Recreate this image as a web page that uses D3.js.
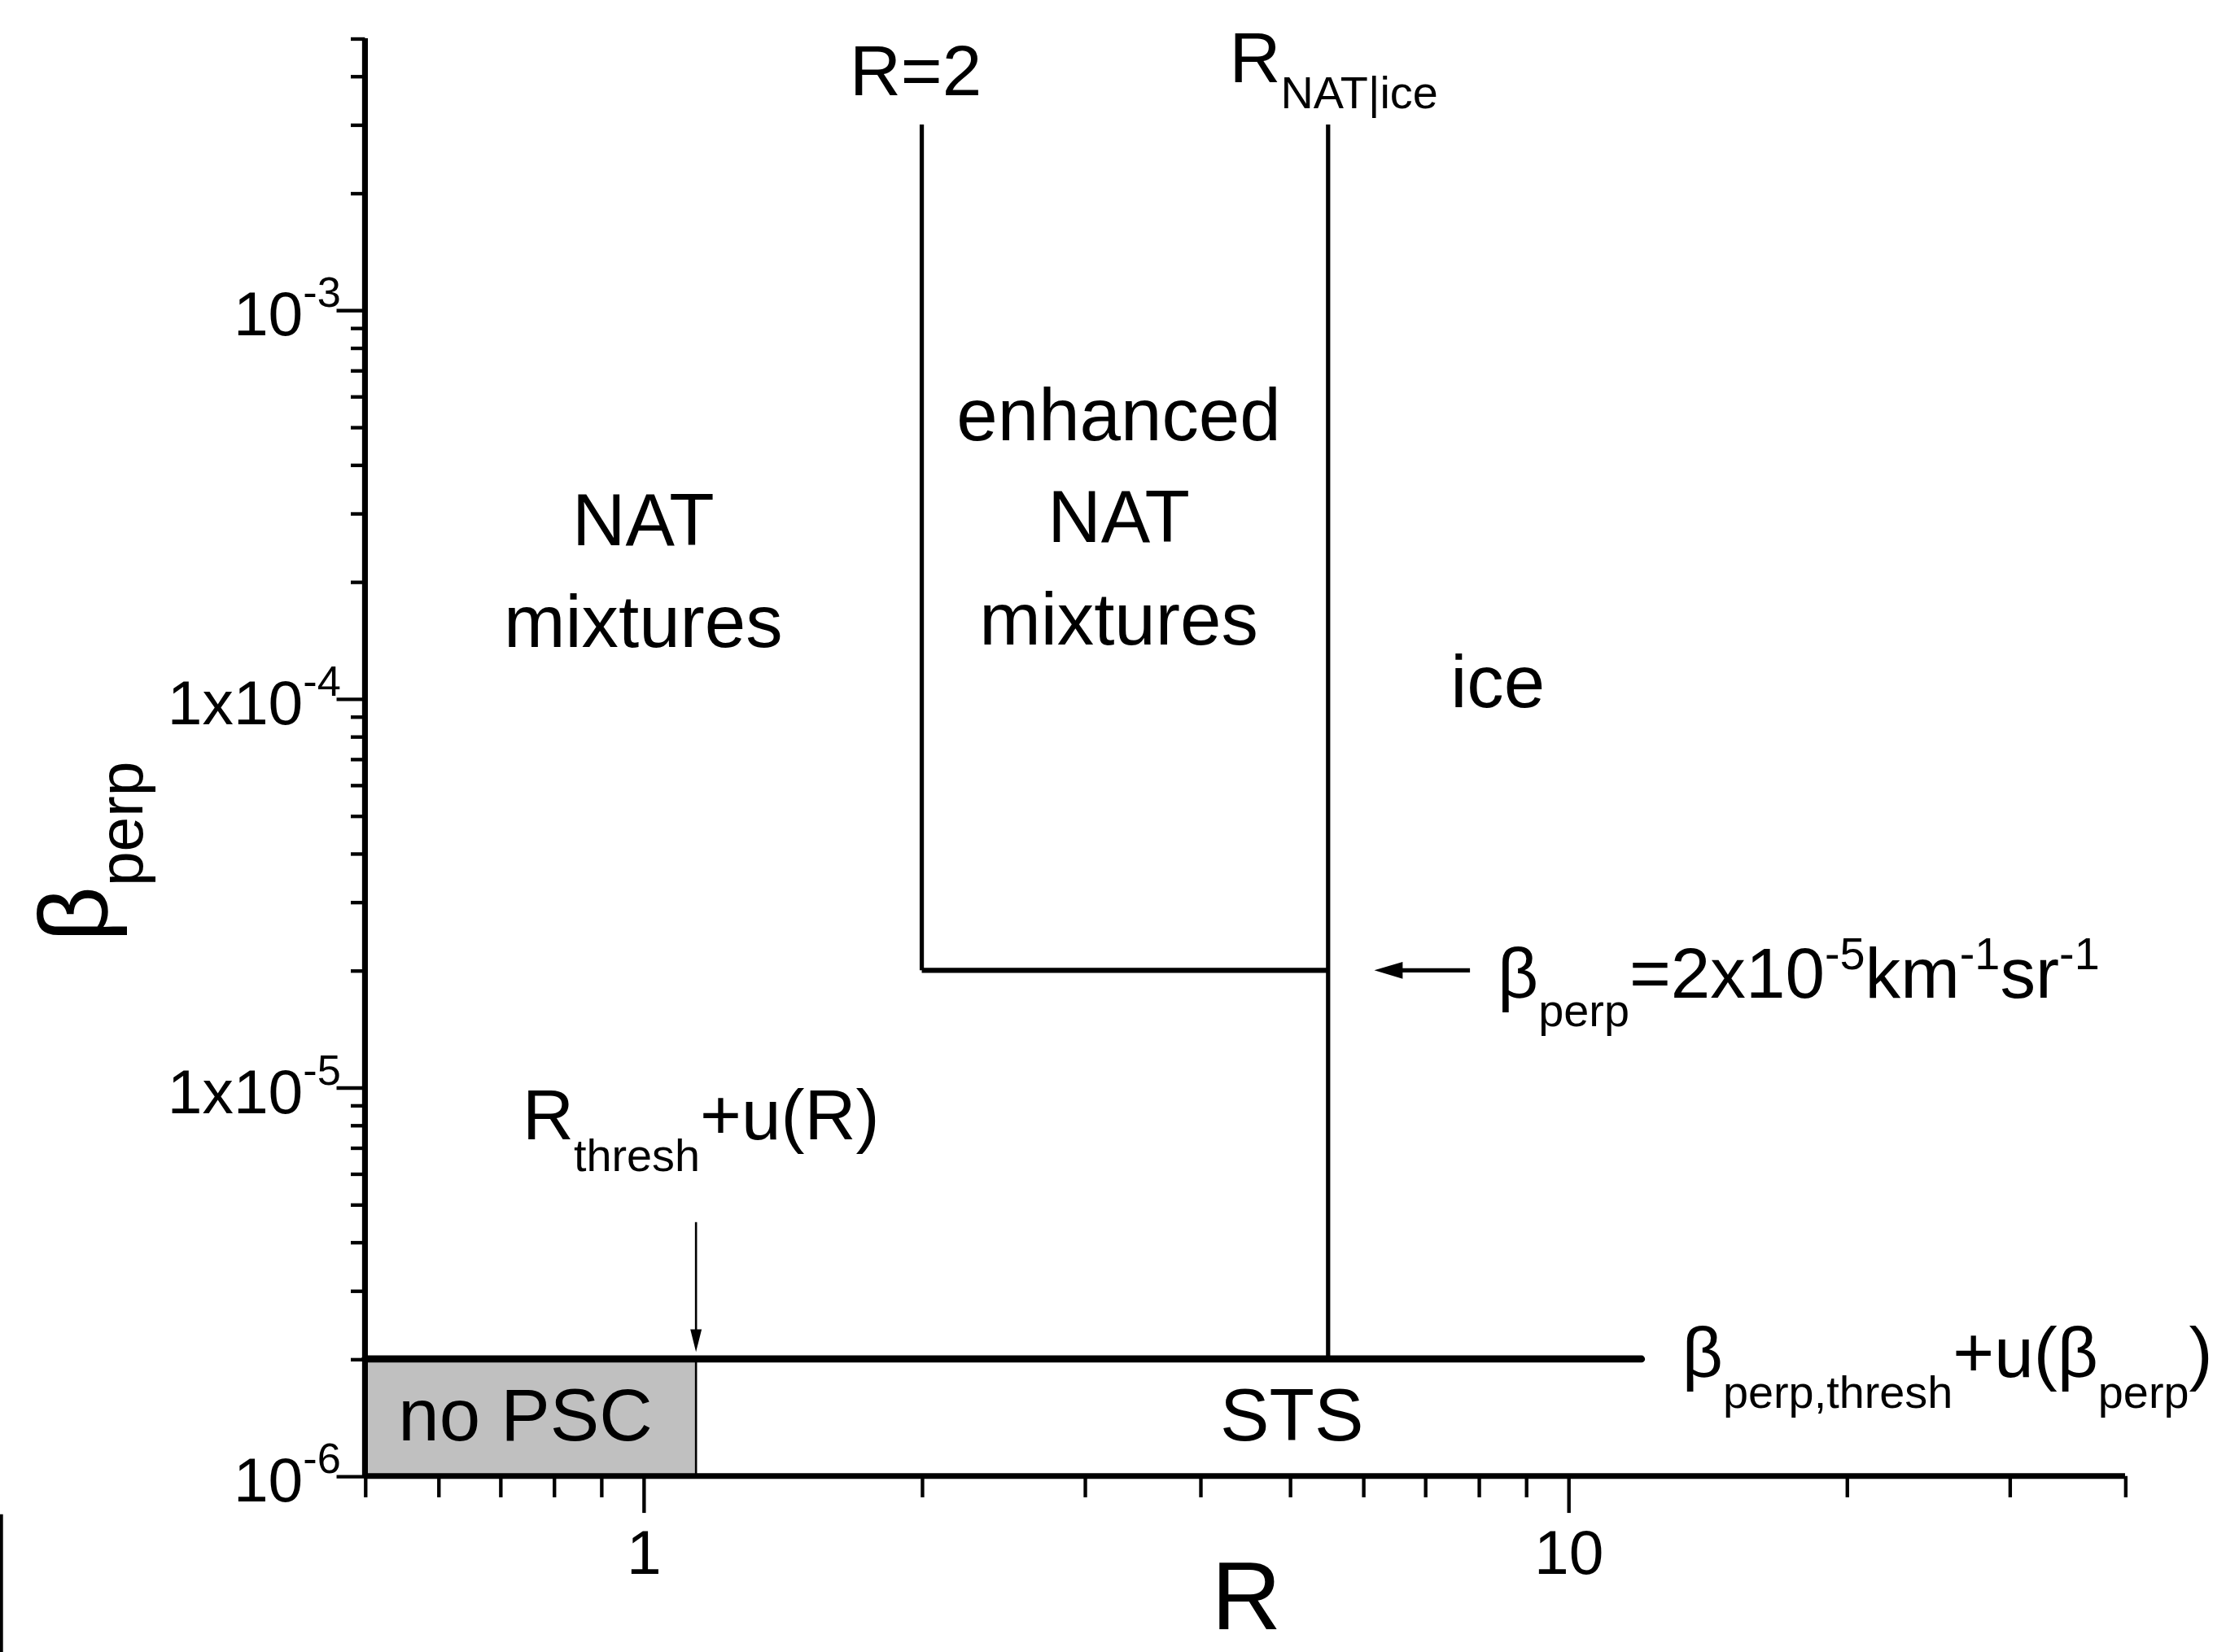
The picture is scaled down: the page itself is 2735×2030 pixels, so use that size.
<!DOCTYPE html><html><head><meta charset="utf-8">
<script src="https://cdn.jsdelivr.net/npm/d3@7"></script>
<style>body{margin:0;background:#fff}text{font-family:"Liberation Sans",Arial,sans-serif;fill:#000}</style>
</head><body><svg id="c" width="2735" height="2030" viewBox="0 0 1568 1164"></svg>
<script>
const xDomain=[0.5,40], yDomain=[1e-6,5e-3];
const xMajor=[1,10], xMinor=[0.5,0.6,0.7,0.8,0.9,2,3,4,5,6,7,8,9,20,30,40];
const yMajor=[1e-6,1e-5,1e-4,1e-3];
const yMajorLabels=[["10","-6"],["1x10","-5"],["1x10","-4"],["10","-3"]];
const R2=2, RNATice=5.5, betaHigh=2e-5, betaThresh=2e-6, Rthresh=1.14, topLine=3e-3, threshLineEnd=12;
const arrowDown=[4.5e-6,2.05e-6], arrowLeft=[7.83,6.17];

const svg=d3.select("#c");
const x=d3.scaleLog().domain(xDomain).range([257,1497]);
const y=d3.scaleLog().domain(yDomain).range([1040,27]);
const yMinor=[];
for(let e=-6;e<=-3;e++)for(let m=2;m<=9;m++){const v=m*Math.pow(10,e);if(v<=5e-3)yMinor.push(v);}

// no PSC box
svg.append("rect").attr("x",x(0.5)).attr("y",y(betaThresh)).attr("width",x(Rthresh)-x(0.5)).attr("height",y(1e-6)-y(betaThresh)).attr("fill","#c0c0c0").attr("stroke","#000").attr("stroke-width",1.5);

// axes
const ax=svg.append("g").attr("transform","translate(0,1040)");
ax.call(d3.axisBottom(x).tickValues(xMajor).tickFormat(d3.format("d")).tickSize(26).tickPadding(12));
ax.append("g").call(d3.axisBottom(x).tickValues(xMinor).tickFormat("").tickSize(15));
ax.selectAll("text").attr("font-size",44);
const ay=svg.append("g").attr("transform","translate(257,0)");
ay.call(d3.axisLeft(y).tickValues(yMajor).tickFormat("").tickSize(20));
ay.append("g").call(d3.axisLeft(y).tickValues(yMinor).tickFormat("").tickSize(10));
svg.selectAll(".domain").attr("stroke-width",4);
svg.selectAll(".tick line").attr("stroke-width",2.5);
svg.selectAll(".domain").attr("d",function(){return d3.select(this.parentNode).attr("transform")==="translate(0,1040)"?"M257,0H1497":"M0,27V1040";});
yMajor.forEach((v,i)=>{const t=svg.append("text").attr("x",240).attr("y",y(v)+18).attr("text-anchor","end").attr("font-size",44);
 t.append("tspan").text(yMajorLabels[i][0]);t.append("tspan").attr("dy",-20).attr("font-size",30).text(yMajorLabels[i][1]);});

// lines
const L=(x1,y1,x2,y2,w)=>svg.append("line").attr("x1",x1).attr("y1",y1).attr("x2",x2).attr("y2",y2).attr("stroke","#000").attr("stroke-width",w);
L(x(R2),y(topLine),x(R2),y(betaHigh),3);
L(x(RNATice),y(topLine),x(RNATice),y(betaThresh),3);
L(x(R2),y(betaHigh),x(RNATice),y(betaHigh),3.5);
L(x(0.5),y(betaThresh),x(threshLineEnd),y(betaThresh),5).attr("stroke-linecap","round");
// arrows
L(x(Rthresh),y(arrowDown[0]),x(Rthresh),y(arrowDown[1])-12,1.5);
svg.append("path").attr("d",`M${x(Rthresh)-4},${y(arrowDown[1])-18}L${x(Rthresh)},${y(arrowDown[1])-2}L${x(Rthresh)+4},${y(arrowDown[1])-18}Z`);
L(x(arrowLeft[0]),y(betaHigh),x(arrowLeft[1])+14,y(betaHigh),3);
svg.append("path").attr("d",`M${x(arrowLeft[1])+20},${y(betaHigh)-6}L${x(arrowLeft[1])},${y(betaHigh)}L${x(arrowLeft[1])+20},${y(betaHigh)+6}Z`);

// texts
const T=(tx,ty,s,sz,anc)=>svg.append("text").attr("x",tx).attr("y",ty).attr("font-size",sz).attr("text-anchor",anc||"middle").text(s);
T(453,384,"NAT",52);T(453,456,"mixtures",52);
T(788,310,"enhanced",52);T(788,382,"NAT",52);T(788,454,"mixtures",52);
T(1055,498,"ice",52);T(370,1015,"no PSC",52);T(910,1015,"STS",52);
T(645,67,"R=2",50);
let t=svg.append("text").attr("x",866).attr("y",58).attr("font-size",50);t.append("tspan").text("R");t.append("tspan").attr("dy",18).attr("font-size",32).text("NAT|ice");
t=svg.append("text").attr("x",368).attr("y",803).attr("font-size",50);t.append("tspan").text("R");t.append("tspan").attr("dy",22).attr("font-size",32).text("thresh");t.append("tspan").attr("dy",-22).text("+u(R)");
t=svg.append("text").attr("x",1055).attr("y",703).attr("font-size",50);t.append("tspan").text("β");t.append("tspan").attr("dy",20).attr("font-size",32).text("perp");
t.append("tspan").attr("dy",-20).text("=2x10");t.append("tspan").attr("dy",-20).attr("font-size",32).text("-5");
t.append("tspan").attr("dy",20).text("km");t.append("tspan").attr("dy",-20).attr("font-size",32).text("-1");
t.append("tspan").attr("dy",20).text("sr");t.append("tspan").attr("dy",-20).attr("font-size",32).text("-1");
t=svg.append("text").attr("x",1185).attr("y",970).attr("font-size",50);t.append("tspan").text("β");t.append("tspan").attr("dy",22).attr("font-size",32).text("perp,thresh");
t.append("tspan").attr("dy",-22).text("+u(β");t.append("tspan").attr("dy",22).attr("font-size",32).text("perp");t.append("tspan").attr("dy",-22).text(")");
T(878,1148,"R",68);
t=svg.append("text").attr("transform","translate(75,600) rotate(-90)").attr("font-size",68).attr("text-anchor","middle");
t.append("tspan").text("β");t.append("tspan").attr("dy",25).attr("font-size",44).text("perp");
</script></body></html>
